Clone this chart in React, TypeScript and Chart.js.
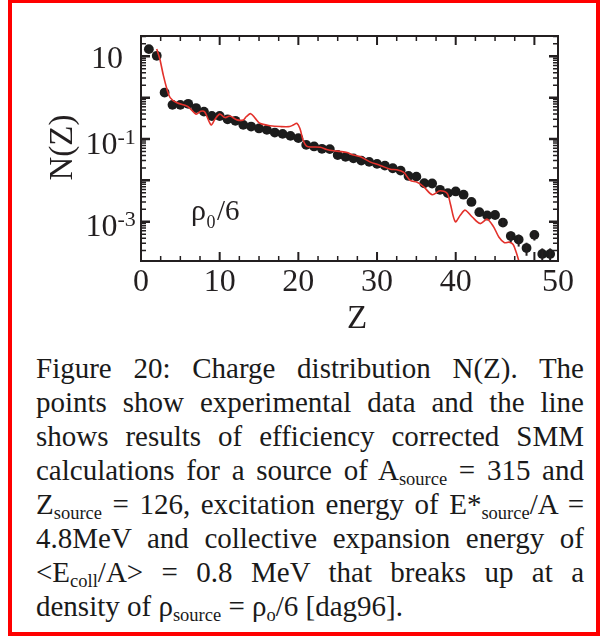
import React, { useEffect, useRef } from "react";
import { Chart, registerables } from "chart.js";

Chart.register(...registerables);

// ---- data ----
const chargeZ = [
  1, 2, 3, 4, 5, 6, 7, 8, 9, 10, 11, 12, 13, 14, 15, 16, 17, 18, 19, 20, 21, 22, 23, 24, 25, 26,
  27, 28, 29, 30, 31, 32, 33, 34, 35, 36, 37, 38, 39, 40, 41, 42, 43, 44, 45, 46, 47, 48, 49, 50,
  51, 52,
];
const measuredN = [
  14.9, 10.3, 1.33, 0.67, 0.67, 0.71, 0.56, 0.46, 0.36, 0.36, 0.3, 0.275, 0.22, 0.2, 0.18, 0.166,
  0.143, 0.133, 0.119, 0.105, 0.072, 0.066, 0.058, 0.057, 0.041, 0.037, 0.034, 0.03, 0.028, 0.025,
  0.0227, 0.0196, 0.0172, 0.0128, 0.0123, 0.0085, 0.0084, 0.0059, 0.0049, 0.0054, 0.0045, 0.003,
  0.0017, 0.00141, 0.00145, 0.00095, 0.00045, 0.00037, 0.00023, 0.00048, 0.000166, 0.000166,
];
const measuredErr = [
  0, 0, 0, 0, 0, 0, 0, 0, 0, 0, 0, 0, 0, 0, 0, 0, 0, 0, 0, 0, 0, 0, 0, 0, 0, 0, 0, 0, 0, 0, 0, 0,
  0, 0, 0, 0, 0, 0, 0, 0, 0, 0, 0, 0, 0, 0.0002, 0.00013, 0.00012, 0.00008, 0.00013, 0.00006,
  0.00006,
];
const smmZ = [
  2.0, 2.4, 2.85, 3.3, 3.7, 4.5, 5.8, 6.2, 7.0, 7.6, 8.1, 8.9, 9.4, 10.0, 10.7, 11.3, 12.2, 13.0,
  13.4, 13.95, 14.5, 15.1, 16.4, 17.7, 18.9, 19.4, 19.8, 20.2, 20.6, 21.1, 21.9, 22.8, 23.6, 24.5,
  25.3, 26.2, 27.0, 27.9, 29.1, 30.4, 31.7, 32.5, 33.4, 34.2, 35.1, 35.9, 37.0, 38.0, 38.9, 39.3,
  39.95, 40.6, 41.2, 42.1, 43.1, 44.0, 44.8, 45.5, 46.2, 46.8, 47.3, 47.7, 48.1,
];
const smmN = [
  15, 8.5, 3.4, 1.6, 1.0, 0.76, 0.63, 0.56, 0.4, 0.47, 0.45, 0.22, 0.3, 0.4, 0.33, 0.36, 0.29, 0.29,
  0.35, 0.41, 0.32, 0.24, 0.21, 0.2, 0.2, 0.22, 0.24, 0.18, 0.095, 0.066, 0.064, 0.063, 0.056, 0.052,
  0.05, 0.047, 0.041, 0.037, 0.028, 0.023, 0.0185, 0.018, 0.0155, 0.01, 0.009, 0.0071, 0.0045,
  0.0056, 0.0049, 0.0028, 0.001, 0.00145, 0.0019, 0.0013, 0.0009, 0.00115, 0.00076, 0.00042,
  0.00031, 0.00032, 0.00028, 0.00018, 0.0001,
];
const xMajorTickValues = [0, 10, 20, 30, 40];
const xTickLabels = ["0", "10", "20", "30", "40", "50"];
const yLabelValues = [10, 0.1, 0.001];
const yLabelExponents = ["", "-1", "-3"];
const xMin = 0;
const xMax = 53;
const yMin = 1.12e-4;
const yMax = 31;

const INK = "#231f20";
const RED = "#e3312b";
const SERIF = "'Times New Roman', Times, 'Liberation Serif', Tinos, serif";

const framePlugin = {
  id: "framePlugin",
  afterDatasetsDraw(chart: any) {
    const { ctx, chartArea: a } = chart;
    const xs = chart.scales.x;
    const ys = chart.scales.y;
    ctx.save();
    // error bars
    ctx.beginPath();
    ctx.rect(a.left, a.top, a.right - a.left, a.bottom - a.top);
    ctx.clip();
    ctx.strokeStyle = INK;
    ctx.lineWidth = 2;
    chargeZ.forEach((z, i) => {
      const e = measuredErr[i];
      if (!e) return;
      const px = xs.getPixelForValue(z);
      const y1 = ys.getPixelForValue(measuredN[i] + e);
      const y2 = ys.getPixelForValue(Math.max(measuredN[i] - e, 1e-7));
      ctx.beginPath();
      ctx.moveTo(px, y1);
      ctx.lineTo(px, y2);
      ctx.stroke();
    });
    ctx.restore();

    ctx.save();
    ctx.strokeStyle = INK;
    ctx.fillStyle = INK;
    ctx.lineWidth = 2;
    ctx.strokeRect(a.left, a.top, a.right - a.left, a.bottom - a.top);

    // x ticks (inward, bottom and top)
    for (let v = 0; v <= 50.001; v += 2.5) {
      const px = xs.getPixelForValue(v);
      const major = Math.abs(v % 10) < 1e-6;
      const len = major ? 9 : 5;
      ctx.lineWidth = major ? 2 : 1.5;
      ctx.beginPath();
      ctx.moveTo(px, a.bottom);
      ctx.lineTo(px, a.bottom - len);
      ctx.moveTo(px, a.top);
      ctx.lineTo(px, a.top + len);
      ctx.stroke();
    }
    // y ticks (inward, left and right)
    for (let e = -5; e <= 2; e++) {
      for (let m = 1; m <= 9; m++) {
        const v = m * Math.pow(10, e);
        if (v < yMin || v > yMax) continue;
        const py = ys.getPixelForValue(v);
        const major = m === 1;
        const len = major ? 9 : 5;
        ctx.lineWidth = major ? 2.5 : 1.5;
        ctx.beginPath();
        ctx.moveTo(a.left, py);
        ctx.lineTo(a.left + len, py);
        ctx.moveTo(a.right, py);
        ctx.lineTo(a.right - len, py);
        ctx.stroke();
      }
    }

    // x tick labels
    ctx.font = `32px ${SERIF}`;
    ctx.textAlign = "center";
    ctx.textBaseline = "alphabetic";
    xTickLabels.forEach((lab, i) => {
      const px = i < xMajorTickValues.length ? xs.getPixelForValue(xMajorTickValues[i]) : xs.getPixelForValue(xs.max);
      ctx.fillText(lab, px, 291);
    });

    // y tick labels with superscripts
    yLabelValues.forEach((v, i) => {
      const py = ys.getPixelForValue(v);
      const exp = yLabelExponents[i];
      ctx.font = `32px ${SERIF}`;
      if (!exp) {
        ctx.textAlign = "right";
        ctx.fillText("10", 123, py + 11.8);
      } else {
        ctx.textAlign = "right";
        ctx.fillText("10", 117.5, py + 14.5);
        ctx.font = `22px ${SERIF}`;
        ctx.textAlign = "left";
        ctx.fillText(exp, 117.5, py + 4.5);
      }
    });

    // axis titles
    ctx.font = `33px ${SERIF}`;
    ctx.textAlign = "center";
    ctx.fillText("Z", 357, 328);
    ctx.save();
    ctx.translate(71.5, 147.5);
    ctx.rotate(-Math.PI / 2);
    ctx.fillText("N(Z)", 0, 0);
    ctx.restore();

    // annotation rho_0/6
    ctx.textAlign = "left";
    ctx.font = `30px ${SERIF}`;
    ctx.fillText("ρ", 191, 220);
    ctx.font = `18px ${SERIF}`;
    ctx.fillText("0", 206.5, 228);
    ctx.font = `29px ${SERIF}`;
    ctx.fillText("/6", 217, 220);
    ctx.restore();
  },
};

function ChargeChart() {
  const ref = useRef<HTMLCanvasElement | null>(null);
  useEffect(() => {
    if (!ref.current) return;
    const chart = new Chart(ref.current, {
      type: "scatter",
      data: {
        datasets: [
          {
            label: "SMM",
            data: smmZ.map((z, i) => ({ x: z, y: smmN[i] })),
            showLine: true,
            borderColor: RED,
            backgroundColor: RED,
            borderWidth: 1.6,
            pointRadius: 0,
            tension: 0.3,
            order: 0,
          } as any,
          {
            label: "data",
            data: chargeZ.map((z, i) => ({ x: z, y: measuredN[i] })),
            showLine: false,
            pointRadius: 4.9,
            pointBackgroundColor: "#1c1c1c",
            pointBorderColor: "#1c1c1c",
            pointBorderWidth: 0,
            order: 1,
          } as any,
        ],
      },
      options: {
        responsive: false,
        animation: false,
        devicePixelRatio: 1,
        layout: { padding: { left: 141, top: 36, right: 47, bottom: 79 } },
        scales: {
          x: { type: "linear", min: xMin, max: xMax, display: false },
          y: { type: "logarithmic", min: yMin, max: yMax, display: false },
        },
        plugins: { legend: { display: false }, tooltip: { enabled: false } },
      } as any,
      plugins: [framePlugin],
    });
    return () => chart.destroy();
  }, []);
  return (
    <canvas
      ref={ref}
      width={605}
      height={340}
      style={{ position: "absolute", left: 0, top: 0, width: 605, height: 340 }}
    />
  );
}

const subStyle: React.CSSProperties = { fontSize: "18.5px", verticalAlign: "-5px", lineHeight: 0 };
const lineStyle: React.CSSProperties = {
  height: 34,
  textAlign: "justify",
  textAlignLast: "justify" as any,
};

export default function App() {
  return (
    <div>
      <div
        style={{
          position: "absolute",
          left: 8,
          top: -1,
          width: 584,
          height: 629,
          border: "4px solid #ff0000",
        }}
      />
      <ChargeChart />
      <div
        style={{
          position: "absolute",
          left: 36,
          top: 351,
          width: 548,
          fontFamily: SERIF,
          fontSize: 29,
          lineHeight: "34px",
          color: "#1a1a1a",
        }}
      >
        <div style={lineStyle}>Figure 20: Charge distribution N(Z). The</div>
        <div style={lineStyle}>points show experimental data and the line</div>
        <div style={lineStyle}>shows results of efficiency corrected SMM</div>
        <div style={lineStyle}>
          calculations for a source of A<span style={subStyle}>source</span> = 315 and
        </div>
        <div style={lineStyle}>
          Z<span style={subStyle}>source</span> = 126, excitation energy of E*
          <span style={subStyle}>source</span>/A =
        </div>
        <div style={lineStyle}>4.8MeV and collective expansion energy of</div>
        <div style={lineStyle}>
          {"<"}E<span style={subStyle}>coll</span>/A{">"} = 0.8 MeV that breaks up at a
        </div>
        <div style={{ height: 34, textAlign: "left" }}>
          density of ρ<span style={subStyle}>source</span> = ρ<span style={subStyle}>o</span>/6 [dag96].
        </div>
      </div>
    </div>
  );
}
